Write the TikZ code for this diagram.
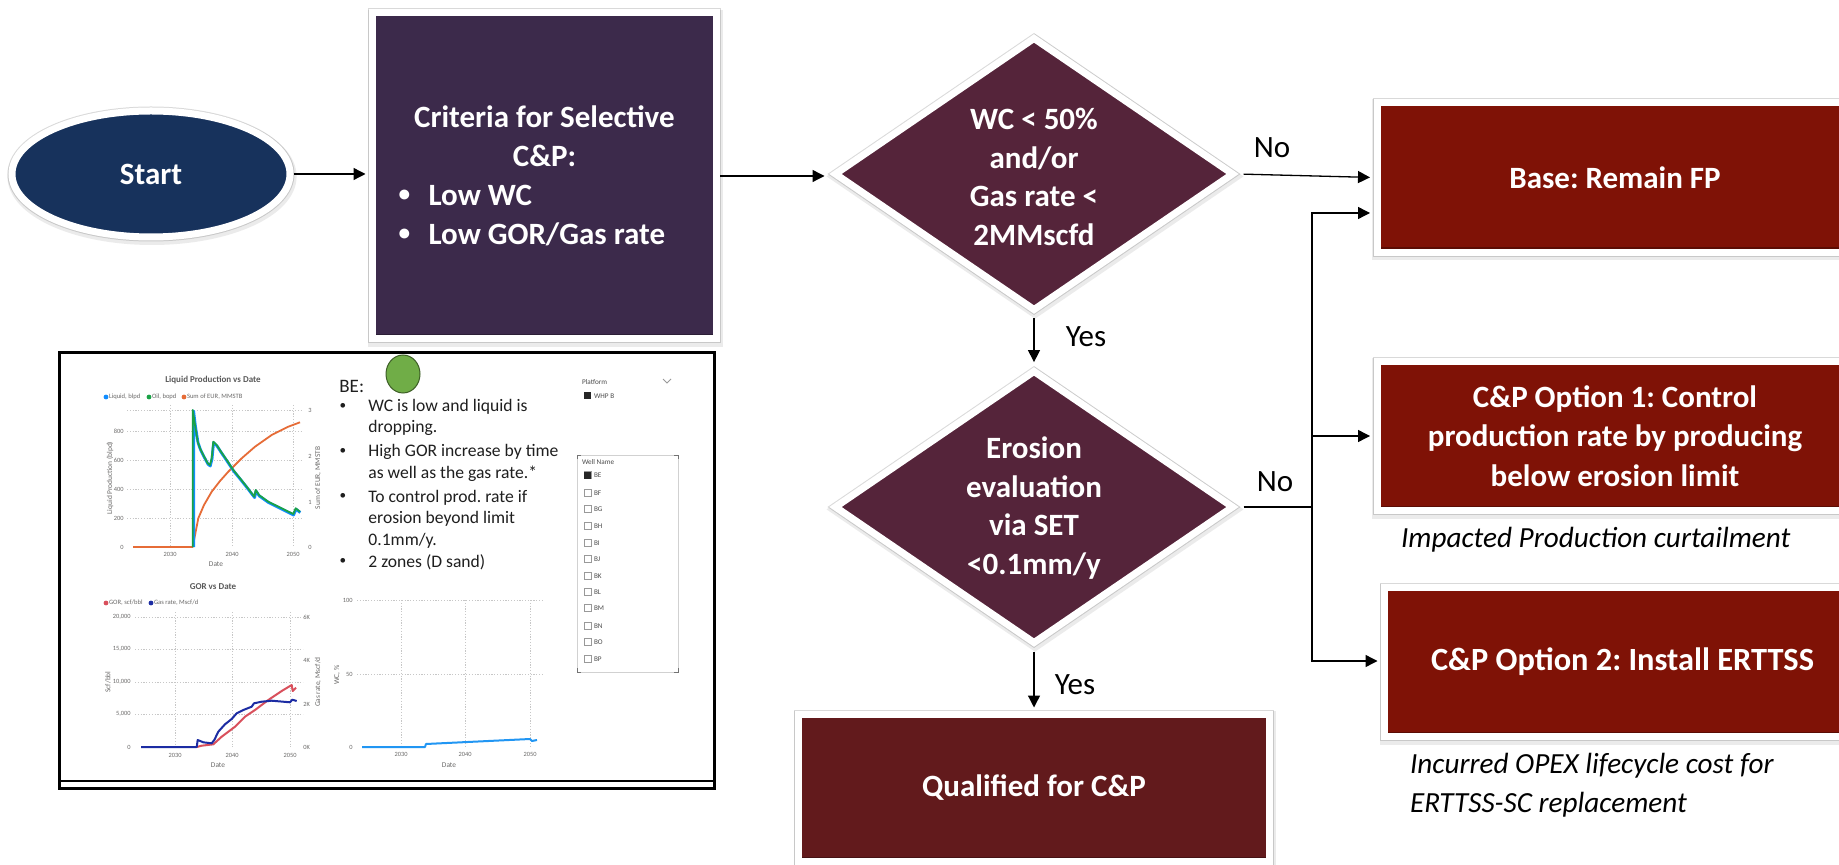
\documentclass[tikz,border=0pt]{standalone}
\usepackage{fontspec}
\setmainfont{Carlito}
\usetikzlibrary{shapes.geometric,arrows.meta}
\frenchspacing

\definecolor{navy}{HTML}{17325C}
\definecolor{plum}{HTML}{3C2A4B}
\definecolor{wine}{HTML}{55243A}
\definecolor{brick}{HTML}{7F1206}
\definecolor{qualred}{HTML}{621A1C}
\definecolor{pbiblue}{HTML}{118DFF}
\definecolor{pbigreen}{HTML}{1AA246}
\definecolor{pbiorange}{HTML}{E66C37}
\definecolor{gorred}{HTML}{D9505C}
\definecolor{gasblue}{HTML}{1C2CA3}
\definecolor{wcblue}{HTML}{2196F3}
\definecolor{axisgray}{HTML}{6B6A69}
\definecolor{leaf}{HTML}{70AD47}

\newcommand\smallbullet{\raisebox{0.12em}{\scalebox{0.75}{\textbullet}}}
\newcommand\critbullet[1]{\makebox[146pt][l]{\makebox[15pt][l]{\smallbullet}#1}}

\tikzset{
  % white rim with a faint grey edge and a soft shadow below it
  frame/.style={draw=white, line width=3.5pt, inner sep=0pt,
    preaction={draw=black, opacity=0.08, line width=5.6pt, transform canvas={xshift=0.5pt, yshift=-1.2pt}},
    preaction={draw=black, opacity=0.15, line width=4.5pt}},
  bevel/.style={path picture={
    \fill[black, opacity=0.28] (path picture bounding box.south west) rectangle
      ([yshift=2.5pt]path picture bounding box.south east);
    \fill[white, opacity=0.10] (path picture bounding box.north west) rectangle
      ([yshift=-1.5pt]path picture bounding box.north east);}},
  boxtxt/.style={text=white, align=center,
    font=\bfseries\fontsize{15.5}{19.5}\selectfont},
  lbl/.style={font=\fontsize{15.5}{18}\selectfont, text=black},
  note/.style={font=\itshape\fontsize{14.6}{19.5}\selectfont, text=black, align=left},
  link/.style={draw=black, line width=0.65pt},
  arr/.style={link, -{Triangle[length=6pt,width=6pt]}, shorten >=1.75pt},
  grid/.style={draw=black!22, line width=0.35pt, dash pattern=on 0.6pt off 0.8pt},
  tick/.style={font=\fontsize{3.2}{3.6}\selectfont, text=axisgray, inner sep=0.5pt},
  axtitle/.style={font=\fontsize{3.7}{4}\selectfont, text=axisgray, inner sep=0.5pt},
  ctitle/.style={font=\bfseries\fontsize{4.5}{5}\selectfont, text=black!65, inner sep=0.5pt},
  legend/.style={font=\fontsize{3.3}{4}\selectfont, text=axisgray, inner sep=0.3pt, anchor=west},
  bet/.style={font=\fontsize{8.8}{11}\selectfont, text=black!88, inner sep=0pt},
  slt/.style={font=\fontsize{3.6}{4.2}\selectfont, text=black!70, inner sep=0.3pt},
}

\begin{document}
\begin{tikzpicture}[x=0.5pt,y=-0.5pt]
\useasboundingbox (0,0) rectangle (1839,865);

% ---------------- flowchart shapes ----------------
\node[ellipse, frame, fill=navy, minimum width=139pt, minimum height=63pt, boxtxt]
  (start) at (151,174) {Start};

\node[rectangle, frame, bevel, fill=plum, minimum width=172pt, minimum height=163pt, boxtxt]
  (crit) at (544.5,176)
  {Criteria for Selective\\C\&P:\\\critbullet{Low WC}\\\critbullet{Low GOR/Gas rate}};

\node[diamond, frame, fill=wine, minimum width=200pt, minimum height=137pt] (d1) at (1034,174) {};
\node[boxtxt, font=\bfseries\fontsize{15.5}{19.25}\selectfont] (d1t) at (1034,177)
  {WC < 50\%\\and/or\\Gas rate <\\2MMscfd};

\node[diamond, frame, fill=wine, minimum width=200pt, minimum height=137pt] (d2) at (1034,507) {};
\node[boxtxt, font=\bfseries\fontsize{15.5}{19.25}\selectfont] (d2t) at (1034,508)
  {Erosion\\evaluation\\via SET\\<0.1mm/y};

\node[rectangle, frame, bevel, fill=brick, minimum width=238pt, minimum height=75pt, boxtxt]
  (base) at (1615,177.5) {Base: Remain FP};

\node[rectangle, frame, bevel, fill=brick, minimum width=238pt, minimum height=74.5pt, boxtxt,
  font=\bfseries\fontsize{15.5}{19.75}\selectfont]
  (opt1) at (1615,436) {C\&P Option 1: Control\\production rate by producing\\below erosion limit};

\node[rectangle, frame, bevel, fill=brick, minimum width=238pt, minimum height=74.5pt, boxtxt,
  font=\bfseries\fontsize{16.2}{19.5}\selectfont]
  (opt2) at (1622.5,662) {C\&P Option 2: Install ERTTSS};

\node[rectangle, frame, bevel, fill=qualred, minimum width=235.5pt, minimum height=73.5pt, boxtxt]
  (qual) at (1034,788) {Qualified for C\&P};

% ---------------- connectors ----------------
\draw[arr] (start.east) -- (start.east -| crit.west);
\draw[arr, shorten >=3pt] (crit.east) -- (crit.east -| d1.west);
\draw[arr, shorten <=3pt] (d1.east) -- (base.west);
\draw[arr, shorten <=2pt, shorten >=2.2pt] (d1.south) -- (d2.north);
\draw[arr, shorten <=2pt] (d2.south) -- (qual.north);

\coordinate (jn) at (1312,507);
\coordinate (jtop) at (1312,213);
\coordinate (jbot) at (1312,661);
\draw[link, shorten <=3pt] (d2.east) -- (jn);
\draw[arr] (jn) -- (jtop) -- (jtop -| base.west);
\draw[arr] (jn) -- (jbot) -- (jbot -| opt2.west);
\draw[arr] (jn |- opt1.west) -- (opt1.west);

\node[lbl] (no1) at (1272,148) {No};
\node[lbl] (yes1) at (1086,337) {Yes};
\node[lbl] (no2) at (1275,482) {No};
\node[lbl] (yes2) at (1075,685) {Yes};

\node[note, anchor=west] (cap1) at (1394,540) {Impacted Production curtailment};
\node[note, anchor=north west] (cap2) at (1403,746)
  {Incurred OPEX lifecycle cost for\\ERTTSS-SC replacement};

% ---------------- dashboard panel ----------------
\draw[line width=1.5pt, fill=white] (59,353) rectangle (714,788);
\draw[line width=0.8pt] (59,781) -- (714,781);

% liquid production chart
\node[ctitle] (t1) at (213,380) {Liquid Production vs Date};
\fill[pbiblue] (106,397) circle (2.4);
\node[legend] (l1a) at (108,397) {Liquid, blpd};
\fill[pbigreen] (149,397) circle (2.4);
\node[legend] (l1b) at (151,397) {Oil, bopd};
\fill[pbiorange] (184,397) circle (2.4);
\node[legend] (l1c) at (186,397) {Sum of EUR, MMSTB};
\foreach \yy in {410,431,460,489,518} \draw[grid] (127,\yy) -- (302,\yy);
\foreach \xx in {170,232,293} \draw[grid] (\xx,405) -- (\xx,547);
\foreach \v/\yy in {800/431,600/460,400/489,200/518,0/547}
  \node[tick, anchor=east] (ca\v) at (125,\yy) {\v};
\foreach \v/\yy in {3/410,2/456,1/502,0/547}
  \node[tick, anchor=west] (cb\v) at (307,\yy) {\v};
\foreach \v/\xx in {2030/170,2040/232,2050/293}
  \node[tick] (cd\v) at (\xx,554) {\v};
\node[axtitle] (cx1) at (216,564) {Date};
\node[axtitle, rotate=90] (cy1) at (110,478) {Liquid Production (blpd)};
\node[axtitle, rotate=90] (cz1) at (318,478) {Sum of EUR, MMSTB};
\draw[pbiorange, line width=0.9pt, line join=round]
  (133,547) -- (192.7,547) -- (198.3,518.3) -- (204,505) -- (211.7,491.7) -- (220,481)
  -- (228.3,471.7) -- (241.7,458.3) -- (255,446.7) -- (271.7,435) -- (288.3,426.7) -- (300,422.3);
\draw[pbiblue, line width=1.4pt, line join=round]
  (193.6,547) -- (193.6,411) -- (195.4,426) -- (198,442.5) -- (200.3,449.2) -- (203.6,456)
  -- (208,464.2) -- (210.3,466) -- (212,459.2) -- (213.6,442.6) -- (217,446) -- (221.3,452.6)
  -- (227,461) -- (233.6,471) -- (240.3,479.2) -- (247,487.6) -- (254.6,497.6) -- (256,491)
  -- (259.3,496) -- (268.6,502.6) -- (282,509.2) -- (293.6,515) -- (296,509.2) -- (300.3,512.6);
\draw[pbigreen, line width=0.9pt, line join=round]
  (192.7,547) -- (192.7,410) -- (195,425) -- (197.7,441.7) -- (200,448.3) -- (203.3,455)
  -- (207.7,463.3) -- (210,465) -- (211.7,458.3) -- (213.3,441.7) -- (216.7,445) -- (221,451.7)
  -- (226.7,460) -- (233.3,470) -- (240,478.3) -- (246.7,486.7) -- (254.3,496.7) -- (255.7,490)
  -- (259,495) -- (268.3,501.7) -- (281.7,508.3) -- (293.3,514) -- (295.7,508.3) -- (300,511.7);

% GOR chart
\node[ctitle] (t2) at (213,587) {GOR vs Date};
\fill[gorred] (106,603) circle (2.4);
\node[legend] (l2a) at (108,603) {GOR, scf/bbl};
\fill[gasblue] (151,603) circle (2.4);
\node[legend] (l2b) at (153,603) {Gas rate, Mscf/d};
\foreach \yy in {617,649,682,714} \draw[grid] (135,\yy) -- (303,\yy);
\foreach \xx in {175,232,290} \draw[grid] (\xx,612) -- (\xx,747);
\foreach \v/\yy [count=\i] in {20{,}000/617,15{,}000/649,10{,}000/682,5{,}000/714,0/747}
  \node[tick, anchor=east] (ga\i) at (132,\yy) {\v};
\foreach \v/\yy [count=\i] in {6K/617,4K/660,2K/704,0K/747}
  \node[tick, anchor=west] (gb\i) at (302,\yy) {\v};
\foreach \v/\xx in {2030/175,2040/232,2050/290}
  \node[tick] (gd\v) at (\xx,755) {\v};
\node[axtitle] (gx) at (218,765) {Date};
\node[axtitle, rotate=90] (gy) at (108,682) {Scf/bbl};
\node[axtitle, rotate=90] (gz) at (318,682) {Gas rate, Mscf/d};
\draw[gorred, line width=1pt, line join=round]
  (196.7,747) -- (201.7,745.7) -- (213.3,744.3) -- (221.7,736.7) -- (235,726.7) -- (245,716.7)
  -- (255,710) -- (268.3,700) -- (281.7,691) -- (291.7,685) -- (292.7,691) -- (296,687.7);
\draw[gasblue, line width=1pt, line join=round]
  (141,747) -- (196.7,747) -- (197.7,740) -- (203.3,742.3) -- (211.7,743.3) -- (214.3,740)
  -- (218.3,731.7) -- (225,724.3) -- (231.7,719) -- (236.7,713.3) -- (243.3,710) -- (251.7,706.7)
  -- (254,703.3) -- (261.7,701.7) -- (271.7,700.7) -- (290,702.3) -- (292.3,699.7) -- (296.7,701);

% water cut chart
\foreach \yy in {600,674} \draw[grid] (357,\yy) -- (542,\yy);
\foreach \xx in {401,465,530} \draw[grid] (\xx,600) -- (\xx,747);
\foreach \v/\yy in {100/600,50/674,0/747}
  \node[tick, anchor=east] (wa\v) at (354,\yy) {\v};
\foreach \v/\xx in {2030/401,2040/465,2050/530}
  \node[tick] (wd\v) at (\xx,754) {\v};
\node[axtitle] (wx) at (449,765) {Date};
\node[axtitle, rotate=90] (wy) at (337,675) {WC, \%};
\draw[wcblue, line width=1pt, line join=round]
  (362,747) -- (425,747) -- (426,744) -- (530,739) -- (532,741) -- (537,740);

% well commentary
\node[bet, font=\fontsize{9.5}{11}\selectfont, anchor=base west] (be) at (339,393) {BE:};
\fill[leaf, draw=leaf!55!black, line width=0.5pt] (403,374) ellipse (17 and 19);
\foreach \yy [count=\i] in {407,452,497,562}
  \node[bet, anchor=base] (bu\i) at (343,\yy+5) {\smallbullet};
\foreach \t/\yy [count=\i] in {{WC is low and liquid is}/407, {dropping.}/428,
    {High GOR increase by time}/452, {as well as the gas rate.*}/473,
    {To control prod. rate if}/497, {erosion beyond limit}/518,
    {0.1mm/y.}/540, {2 zones (D sand)}/562}
  \node[bet, anchor=base west] (bt\i) at (368,\yy+5) {\t};

% slicers
\node[slt, anchor=west] (plat) at (581,382) {Platform};
\draw[black!40, line width=0.4pt] (663,379) -- (667,383) -- (671,379);
\fill[black!85] (584,392.5) rectangle (591,399.5);
\node[slt, anchor=west] (whp) at (593,396) {WHP B};
\draw[black!18, line width=0.5pt] (577,455) rectangle (678,672);
\draw[black!55, line width=0.5pt] (577,459) -- (577,455) -- (581,455)
  (674,455) -- (678,455) -- (678,459) (577,668) -- (577,672) -- (581,672)
  (674,672) -- (678,672) -- (678,668);
\node[slt, anchor=west] (wn) at (581,462) {Well Name};
\foreach \w/\yy [count=\i] in {BE/475,BF/493,BG/509,BH/526,BI/543,BJ/559,
    BK/576,BL/592,BM/608,BN/626,BO/642,BP/659} {
  \draw[black!40, line width=0.35pt, fill=white] (584,\yy-3.5) rectangle (591,\yy+3.5);
  \node[slt, anchor=west] (w\i) at (593,\yy) {\w};
}
\fill[black!85] (584,471.5) rectangle (591,478.5);
\end{tikzpicture}
\end{document}
